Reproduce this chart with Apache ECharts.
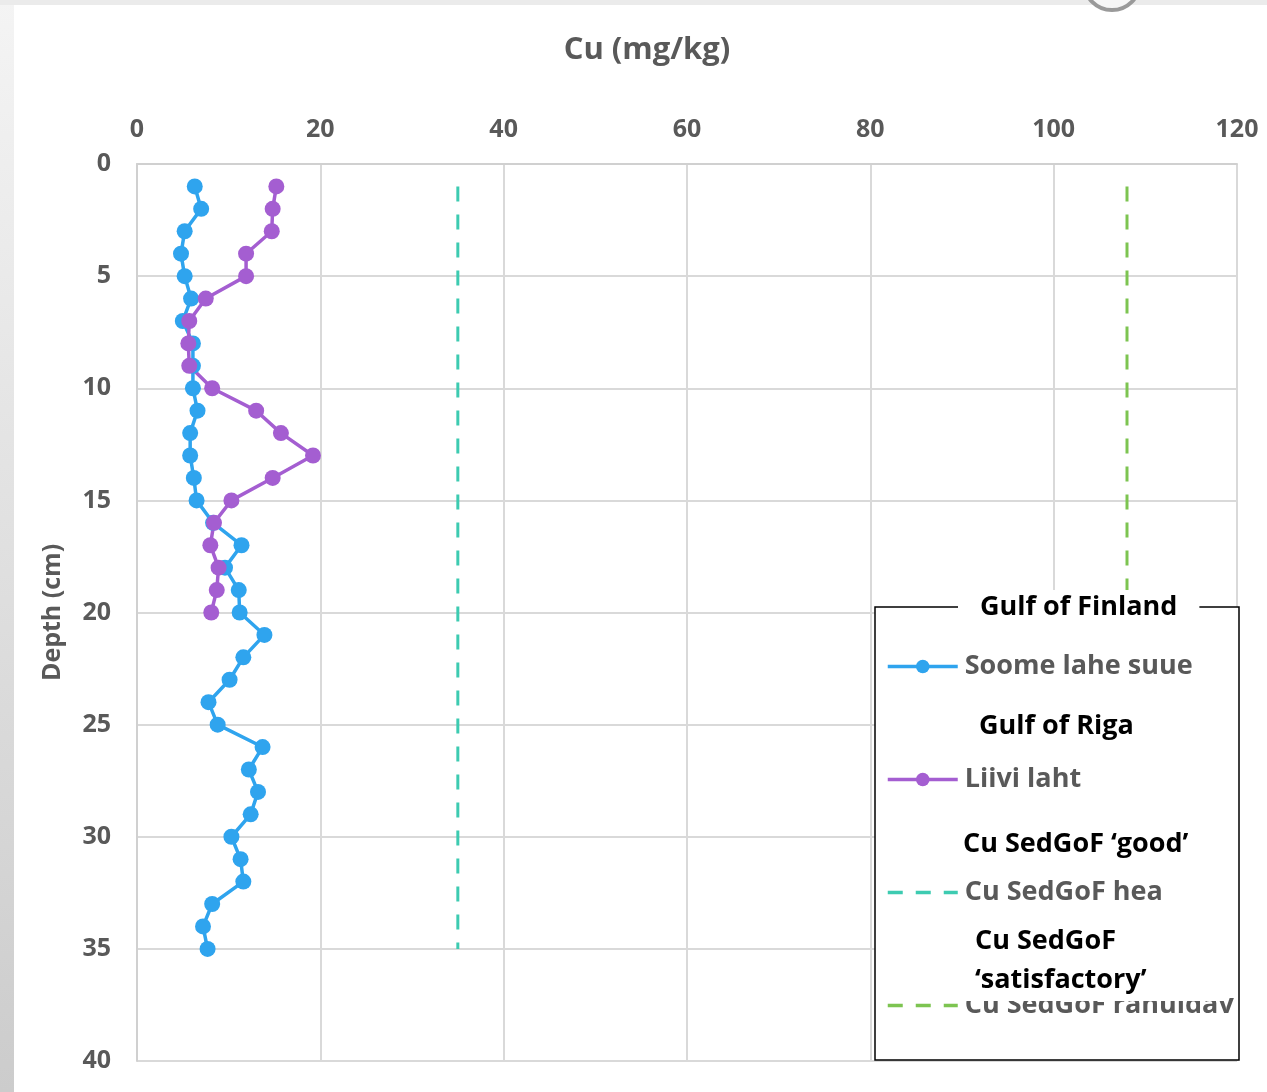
<!DOCTYPE html>
<html>
<head>
<meta charset="utf-8">
<script src="https://cdn.jsdelivr.net/npm/echarts@6/dist/echarts.min.js"></script>
<style>
html,body{margin:0;padding:0;background:#fff;}
#c{width:1267px;height:1092px;}
</style>
</head>
<body>
<div id="c"></div>
<script>
// ---- data ----
const depthFinland = [1,2,3,4,5,6,7,8,9,10,11,12,13,14,15,16,17,18,19,20,21,22,23,24,25,26,27,28,29,30,31,32,33,34,35];
const cuFinland = [6.3,7.0,5.2,4.8,5.2,5.9,5.0,6.1,6.1,6.1,6.6,5.8,5.8,6.2,6.5,8.3,11.4,9.6,11.1,11.2,13.9,11.6,10.1,7.8,8.8,13.7,12.2,13.2,12.4,10.3,11.3,11.6,8.2,7.2,7.7];
const depthRiga = [1,2,3,4,5,6,7,8,9,10,11,12,13,14,15,16,17,18,19,20];
const cuRiga = [15.2,14.8,14.7,11.9,11.9,7.5,5.7,5.6,5.7,8.2,13.0,15.7,19.2,14.8,10.3,8.4,8.0,8.9,8.7,8.1];
const refDepth = [1,35];
const cuGood = [35,35];
const cuSatisfactory = [108,108];
const seriesNames = ['Soome lahe suue','Liivi laht','Cu SedGoF hea','Cu SedGoF rahuldav'];
const groupTitles = ['Gulf of Finland','Gulf of Riga','Cu SedGoF \u2018good\u2019','Cu SedGoF','\u2018satisfactory\u2019'];
const xTicks = {min:0,max:120,interval:20};
const yTicks = {min:0,max:40,interval:5};

const pairs = (xs, ys) => xs.map((x,i)=>[x, ys[i]]);
const FONT = 'Open Sans';
const GRAY = '#595959';
const C_BLUE = '#2FA4EE', C_PURPLE = '#A45ED1', C_TEAL = '#3DCBB1', C_GREEN = '#7DC451';
const DASH = [15,13];

const chart = echarts.init(document.getElementById('c'));
chart.setOption({
  backgroundColor:'#ffffff',
  animation:false,
  grid:{left:137,right:30,top:164,bottom:31,containLabel:false},
  xAxis:{
    type:'value', position:'top', min:xTicks.min, max:xTicks.max, interval:xTicks.interval,
    name:'Cu (mg/kg)', nameLocation:'middle', nameGap:98,
    nameTextStyle:{color:GRAY,fontFamily:FONT,fontWeight:'bold',fontSize:31,padding:[0,80,0,0]},
    axisLine:{show:true,lineStyle:{color:'#d0d0d0',width:2}},
    axisTick:{show:false},
    axisLabel:{color:GRAY,fontFamily:FONT,fontWeight:'bold',fontSize:25,margin:22},
    splitLine:{show:true,lineStyle:{color:'#d9d9d9',width:2}}
  },
  yAxis:{
    type:'value', inverse:true, min:yTicks.min, max:yTicks.max, interval:yTicks.interval,
    name:'Depth (cm)', nameLocation:'middle', nameGap:72, nameRotate:90,
    nameTextStyle:{color:GRAY,fontFamily:FONT,fontWeight:'bold',fontSize:25},
    axisLine:{show:true,lineStyle:{color:'#d0d0d0',width:2}},
    axisTick:{show:false},
    axisLabel:{color:GRAY,fontFamily:FONT,fontWeight:'bold',fontSize:25,margin:26},
    splitLine:{show:true,lineStyle:{color:'#d9d9d9',width:2}}
  },
  legend:{
    orient:'vertical', left:881, top:646, z:5,
    itemWidth:70, itemHeight:17, itemGap:82,
    lineStyle:{width:3.5},
    data:[
      {name:seriesNames[0]},
      {name:seriesNames[1]},
      {name:seriesNames[2],itemStyle:{color:'rgba(0,0,0,0)',borderWidth:0},lineStyle:{type:DASH,width:3.5}},
      {name:seriesNames[3],itemStyle:{color:'rgba(0,0,0,0)',borderWidth:0},lineStyle:{type:DASH,width:3.5}}
    ],
    textStyle:{color:GRAY,fontFamily:FONT,fontWeight:'bold',fontSize:27,lineHeight:31,padding:[0,0,0,2]}
  },
  series:[
    {name:seriesNames[0],type:'line',data:pairs(cuFinland,depthFinland),
      symbol:'circle',symbolSize:16,itemStyle:{color:C_BLUE},lineStyle:{color:C_BLUE,width:3.5},z:2},
    {name:seriesNames[1],type:'line',data:pairs(cuRiga,depthRiga),
      symbol:'circle',symbolSize:16,itemStyle:{color:C_PURPLE},lineStyle:{color:C_PURPLE,width:3.5},z:2},
    {name:seriesNames[2],type:'line',data:pairs(cuGood,refDepth),showSymbol:false,symbol:'none',
      itemStyle:{color:C_TEAL},lineStyle:{color:C_TEAL,width:3,type:DASH},z:2},
    {name:seriesNames[3],type:'line',data:pairs(cuSatisfactory,refDepth),showSymbol:false,symbol:'none',
      itemStyle:{color:C_GREEN},lineStyle:{color:C_GREEN,width:3,type:DASH},z:2}
  ],
  graphic:[
    {type:'rect',shape:{x:0,y:0,width:14,height:1092},z:1,silent:true,
      style:{fill:new echarts.graphic.LinearGradient(0,0,0,1,[{offset:0,color:'#f4f4f4'},{offset:1,color:'#cccccc'}])}},
    {type:'rect',shape:{x:0,y:0,width:1267,height:5},z:1,silent:true,style:{fill:'#ebebeb'}},
    {type:'circle',shape:{cx:1112,cy:-18,r:28},z:1,silent:true,style:{fill:'#f6f6f6',stroke:'#9a9a9a',lineWidth:4}},
    {type:'rect',shape:{x:875,y:607,width:364,height:453},z:3,silent:true,
      style:{fill:'#ffffff',stroke:'#000000',lineWidth:1.5}},
    {type:'text',left:958,top:590,z:10,silent:true,
      style:{text:groupTitles[0],fill:'#000',font:'bold 27px '+FONT,lineHeight:34,backgroundColor:'#fff',padding:[0,22,4,22]}},
    {type:'text',left:979,top:709,z:10,silent:true,
      style:{text:groupTitles[1],fill:'#000',font:'bold 27px '+FONT,lineHeight:34}},
    {type:'text',left:963,top:827,z:10,silent:true,
      style:{text:groupTitles[2],fill:'#000',font:'bold 27px '+FONT,lineHeight:34}},
    {type:'text',left:975,top:924,z:10,silent:true,
      style:{text:groupTitles[3],fill:'#000',font:'bold 27px '+FONT,lineHeight:34}},
    {type:'text',left:960,top:960,z:10,silent:true,
      style:{text:groupTitles[4],fill:'#000',font:'bold 27px '+FONT,lineHeight:34,backgroundColor:'#fff',padding:[3,80,4,15]}}
  ]
});
</script>
</body>
</html>
